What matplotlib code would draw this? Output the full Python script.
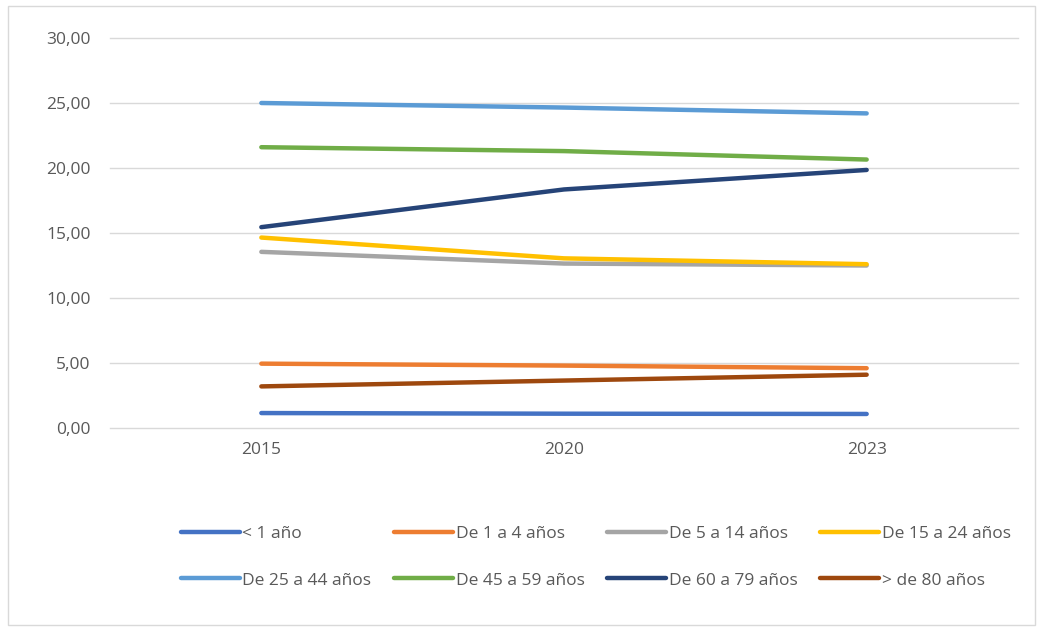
import matplotlib.pyplot as plt
from matplotlib.ticker import FuncFormatter
from matplotlib.patches import Rectangle

plt.rcParams['font.family'] = ['Open Sans', 'DejaVu Sans']

years = ['2015', '2020', '2023']
labels = ['< 1 año', 'De 1 a 4 años', 'De 5 a 14 años', 'De 15 a 24 años',
          'De 25 a 44 años', 'De 45 a 59 años', 'De 60 a 79 años', '> de 80 años']
menor_1 = [1.15, 1.10, 1.08]
de_1_4 = [4.95, 4.80, 4.60]
de_5_14 = [13.55, 12.65, 12.50]
de_15_24 = [14.65, 13.05, 12.60]
de_25_44 = [25.00, 24.65, 24.20]
de_45_59 = [21.60, 21.30, 20.65]
de_60_79 = [15.45, 18.35, 19.85]
mas_80 = [3.20, 3.65, 4.10]
series = [menor_1, de_1_4, de_5_14, de_15_24, de_25_44, de_45_59, de_60_79, mas_80]
colors = ['#4472C4', '#ED7D31', '#A5A5A5', '#FFC000',
          '#5B9BD5', '#70AD47', '#264478', '#9E480E']

fig = plt.figure(figsize=(10.45, 6.31), dpi=100)
ax = fig.add_axes([110 / 1045, 1 - 428 / 631, 908 / 1045, 390 / 631])

x = range(len(years))
lines = []
for vals, lab, c in zip(series, labels, colors):
    ln, = ax.plot(x, vals, color=c, lw=3.2, label=lab, solid_capstyle='round')
    lines.append(ln)

ax.set_xlim(-0.5, 2.5)
ax.set_ylim(0, 30)
ax.set_yticks([0, 5, 10, 15, 20, 25, 30])
ax.yaxis.set_major_formatter(FuncFormatter(lambda v, p: f'{v:.2f}'.replace('.', ',')))
ax.set_xticks(list(x))
ax.set_xticklabels(years)
ax.grid(axis='y', color='#D9D9D9', lw=1)
for gl in ax.get_ygridlines():
    gl.set_clip_on(False)
ax.set_axisbelow(True)
for s in ax.spines.values():
    s.set_visible(False)
ax.tick_params(length=0, labelsize=12.5, labelcolor='#595959')
ax.tick_params(axis='y', pad=14)
ax.tick_params(axis='x', pad=10)

# legend filled row by row, like Excel
order = [0, 4, 1, 5, 2, 6, 3, 7]
fig.legend([lines[i] for i in order], [labels[i] for i in order],
           loc='center', bbox_to_anchor=(0.57, 0.117), ncol=4, frameon=False,
           fontsize=12.5, handlelength=3.4, columnspacing=1.3, handletextpad=0.15,
           labelspacing=1.75, labelcolor='#595959')

fig.patches.append(Rectangle((8 / 1045, 6 / 631), 1027 / 1045, 619 / 631,
                             transform=fig.transFigure, fill=False,
                             edgecolor='#D9D9D9', lw=1))

fig.savefig('out.png', dpi=100)
